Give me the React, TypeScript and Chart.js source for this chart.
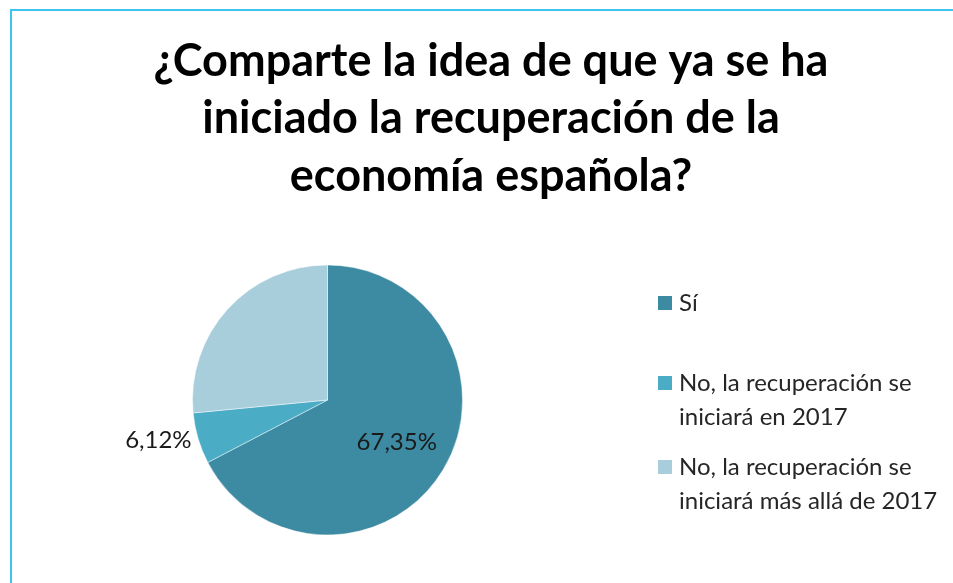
import { useEffect, useRef } from "react";
import { Chart, registerables } from "chart.js";

Chart.register(...registerables);

const titleLines = [
  "¿Comparte la idea de que ya se ha",
  "iniciado la recuperación de la",
  "economía española?",
];
const categories = [
  ["Sí"],
  ["No, la recuperación se", "iniciará en 2017"],
  ["No, la recuperación se", "iniciará más allá de 2017"],
];
const values = [67.35, 6.12, 26.53];
const showValueLabel = [true, true, false];
const colors = ["#3C8BA3", "#4BACC6", "#A8CEDC"];

const FONT = "Lato, 'Open Sans', sans-serif";

const fmt = (v: number) => v.toFixed(2).replace(".", ",") + "%";

const framePlugin = {
  id: "frame",
  beforeDraw(chart: any) {
    const ctx = chart.ctx;
    ctx.save();
    ctx.fillStyle = "#FFFFFF";
    ctx.fillRect(0, 0, chart.width, chart.height);
    ctx.fillStyle = "#3EC4F2";
    ctx.fillRect(10, 9, 2, chart.height - 9);
    ctx.fillRect(10, 9, chart.width - 10, 2);
    ctx.restore();
  },
};

const titlePlugin = {
  id: "customTitle",
  afterDraw(chart: any) {
    const ctx = chart.ctx;
    ctx.save();
    ctx.fillStyle = "#000000";
    ctx.font = `bold 45px ${FONT}`;
    ctx.textAlign = "center";
    ctx.textBaseline = "alphabetic";
    const baselines = [76, 133, 191];
    titleLines.forEach((line, i) => ctx.fillText(line, 491, baselines[i]));
    ctx.restore();
  },
};

const legendPlugin = {
  id: "customLegend",
  afterDraw(chart: any) {
    const ctx = chart.ctx;
    ctx.save();
    ctx.font = `24px ${FONT}`;
    ctx.textBaseline = "middle";
    ctx.textAlign = "left";
    const starts = [303, 383, 467];
    const lineH = 34;
    categories.forEach((lines, i) => {
      const y0 = starts[i];
      ctx.fillStyle = colors[i];
      ctx.fillRect(658, y0 - 7, 14, 14);
      ctx.fillStyle = "#262626";
      lines.forEach((t, j) => ctx.fillText(t, 679, y0 + j * lineH));
    });
    ctx.restore();
  },
};

const valueLabelPlugin = {
  id: "valueLabels",
  afterDatasetsDraw(chart: any) {
    const ctx = chart.ctx;
    const meta = chart.getDatasetMeta(0);
    ctx.save();
    ctx.font = `24px ${FONT}`;
    ctx.fillStyle = "#1A1A1A";
    ctx.textBaseline = "middle";
    meta.data.forEach((arc: any, i: number) => {
      if (!showValueLabel[i]) return;
      const p = arc.getProps(["x", "y", "startAngle", "endAngle", "outerRadius"], true);
      const mid = (p.startAngle + p.endAngle) / 2;
      const frac = values[i] / values.reduce((a, b) => a + b, 0);
      if (frac > 0.1) {
        const r = p.outerRadius * 0.6;
        ctx.textAlign = "center";
        ctx.fillText(fmt(values[i]), p.x + Math.cos(mid) * r, p.y + Math.sin(mid) * r);
      } else {
        const r = p.outerRadius * 1.05;
        ctx.textAlign = Math.cos(mid) < 0 ? "right" : "left";
        ctx.fillText(fmt(values[i]), p.x + Math.cos(mid) * r, p.y + Math.sin(mid) * r);
      }
    });
    ctx.restore();
  },
};

export default function App() {
  const ref = useRef<HTMLCanvasElement | null>(null);
  useEffect(() => {
    if (!ref.current) return;
    const chart = new Chart(ref.current, {
      type: "pie",
      data: {
        labels: categories.map((c) => c.join(" ")),
        datasets: [
          {
            data: values,
            backgroundColor: colors,
            borderColor: "rgba(255,255,255,0.45)",
            borderWidth: 1,
          },
        ],
      },
      options: {
        responsive: false,
        animation: false,
        layout: { padding: { left: 192, right: 490, top: 264, bottom: 47 } },
        plugins: {
          legend: { display: false },
          title: { display: false },
          tooltip: { enabled: false },
        },
      },
      plugins: [framePlugin, titlePlugin, legendPlugin, valueLabelPlugin],
    });
    return () => chart.destroy();
  }, []);
  return (
    <div style={{ position: "absolute", left: 0, top: 0, width: 953, height: 583, background: "#fff" }}>
      <canvas ref={ref} width={953} height={583} style={{ width: 953, height: 583, display: "block" }} />
    </div>
  );
}
